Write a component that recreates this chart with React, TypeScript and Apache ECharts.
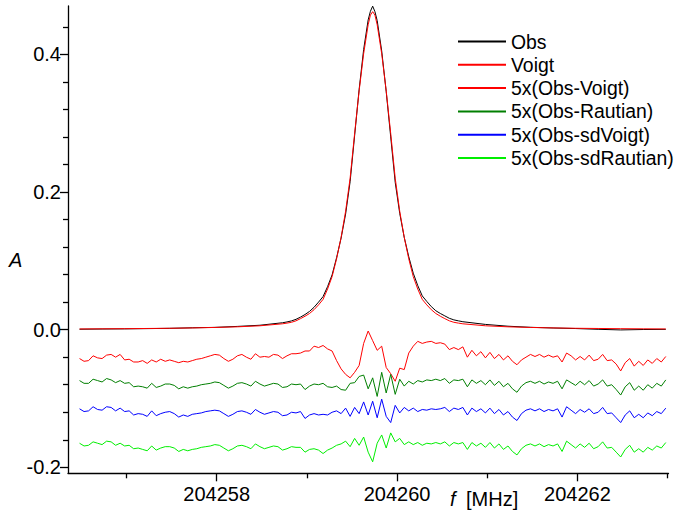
import React, { useEffect, useRef } from "react";
import * as echarts from "echarts";

// Peak (observed line and Voigt fit), sampled denser near the line centre
const peakFreq = [
  204256.48, 204256.73, 204256.98, 204257.23, 204257.48, 204257.73, 204257.98, 204258.23, 204258.48,
  204258.73, 204258.78, 204258.83, 204258.88, 204258.93, 204258.98, 204259.03, 204259.08, 204259.13, 204259.18,
  204259.23, 204259.28, 204259.33, 204259.38, 204259.43, 204259.48, 204259.53, 204259.58, 204259.63, 204259.68,
  204259.705, 204259.73, 204259.755,
  204259.78, 204259.83, 204259.88, 204259.93, 204259.98, 204260.03, 204260.08, 204260.13, 204260.18, 204260.23,
  204260.28, 204260.33, 204260.38, 204260.43, 204260.48, 204260.53, 204260.58, 204260.63, 204260.68, 204260.73,
  204260.98, 204261.23, 204261.48, 204261.73, 204261.98, 204262.23, 204262.48, 204262.73, 204262.98,
];
const obsA = [
  0.0006, 0.0009, 0.0011, 0.0015, 0.0019, 0.0027, 0.0033, 0.0047, 0.0064,
  0.0100, 0.0112, 0.0127, 0.0150, 0.0182, 0.0220, 0.0265, 0.0325, 0.0400, 0.0480,
  0.0625, 0.0795, 0.1045, 0.1330, 0.1680, 0.2150, 0.2820, 0.3490, 0.4070, 0.4500,
  0.4625, 0.4700, 0.4620,
  0.4490, 0.4050, 0.3460, 0.2800, 0.2140, 0.1690, 0.1340, 0.1060, 0.0820, 0.0640,
  0.0490, 0.0410, 0.0335, 0.0275, 0.0235, 0.0200, 0.0165, 0.0142, 0.0128, 0.0115,
  0.0076, 0.0050, 0.0034, 0.0024, 0.0016, 0.0005, -0.0004, 0.0002, 0.0004,
];
const voigtA = [
  0.0010, 0.0012, 0.0014, 0.0017, 0.0020, 0.0025, 0.0032, 0.0041, 0.0056,
  0.0085, 0.0095, 0.0107, 0.0128, 0.0160, 0.0195, 0.0235, 0.0290, 0.0360, 0.0440,
  0.0590, 0.0770, 0.1030, 0.1340, 0.1720, 0.2200, 0.2850, 0.3470, 0.4010, 0.4430,
  0.4570, 0.4620, 0.4570,
  0.4430, 0.4010, 0.3470, 0.2850, 0.2200, 0.1720, 0.1340, 0.1030, 0.0770, 0.0590,
  0.0440, 0.0360, 0.0290, 0.0235, 0.0195, 0.0160, 0.0128, 0.0107, 0.0095, 0.0085,
  0.0056, 0.0041, 0.0032, 0.0025, 0.0020, 0.0017, 0.0014, 0.0012, 0.0010,
];

// Residual traces (already scaled x5 and offset, as plotted), on a uniform grid
const residStart = 204256.48;
const residStep = 0.05;
const residObsVoigt = [
  -0.042, -0.046, -0.045, -0.038, -0.041, -0.042, -0.037, -0.036, -0.040, -0.036,
  -0.044, -0.043, -0.047, -0.047, -0.045, -0.049, -0.044, -0.047, -0.043, -0.046,
  -0.044, -0.046, -0.048, -0.046, -0.047, -0.045, -0.043, -0.042, -0.040, -0.038,
  -0.036, -0.037, -0.042, -0.046, -0.043, -0.038, -0.036, -0.040, -0.043, -0.035,
  -0.040, -0.039, -0.040, -0.036, -0.037, -0.042, -0.038, -0.035, -0.035, -0.034,
  -0.031, -0.031, -0.024, -0.026, -0.023, -0.028, -0.031, -0.045, -0.057, -0.065,
  -0.070, -0.062, -0.052, -0.020, -0.002, -0.016, -0.030, -0.024, -0.055, -0.064,
  -0.075, -0.056, -0.058, -0.034, -0.024, -0.017, -0.020, -0.018, -0.017, -0.020,
  -0.019, -0.021, -0.029, -0.026, -0.029, -0.025, -0.040, -0.030, -0.038, -0.032,
  -0.041, -0.033, -0.042, -0.036, -0.044, -0.038, -0.046, -0.051, -0.044, -0.040,
  -0.036, -0.039, -0.036, -0.040, -0.037, -0.040, -0.038, -0.047, -0.034, -0.038,
  -0.044, -0.039, -0.044, -0.037, -0.045, -0.043, -0.036, -0.045, -0.044, -0.050,
  -0.060, -0.048, -0.042, -0.053, -0.046, -0.052, -0.044, -0.049, -0.042, -0.047,
  -0.039,
];
const residObsRautian = [
  -0.074, -0.078, -0.078, -0.072, -0.074, -0.076, -0.071, -0.073, -0.077, -0.074,
  -0.078, -0.077, -0.083, -0.082, -0.083, -0.085, -0.078, -0.084, -0.082, -0.079,
  -0.079, -0.081, -0.086, -0.083, -0.085, -0.083, -0.082, -0.080, -0.079, -0.078,
  -0.076, -0.077, -0.081, -0.085, -0.082, -0.078, -0.077, -0.079, -0.082, -0.075,
  -0.079, -0.082, -0.080, -0.078, -0.079, -0.084, -0.083, -0.079, -0.080, -0.079,
  -0.087, -0.082, -0.079, -0.080, -0.078, -0.083, -0.084, -0.082, -0.087, -0.088,
  -0.078, -0.077, -0.068, -0.066, -0.086, -0.070, -0.097, -0.062, -0.092, -0.065,
  -0.094, -0.072, -0.082, -0.075, -0.079, -0.074, -0.076, -0.073, -0.074, -0.072,
  -0.074, -0.071, -0.078, -0.073, -0.074, -0.072, -0.083, -0.073, -0.078, -0.074,
  -0.080, -0.073, -0.081, -0.075, -0.083, -0.078, -0.086, -0.091, -0.082, -0.077,
  -0.075, -0.078, -0.075, -0.079, -0.076, -0.078, -0.075, -0.086, -0.073, -0.077,
  -0.081, -0.075, -0.080, -0.074, -0.082, -0.079, -0.073, -0.082, -0.080, -0.087,
  -0.095, -0.083, -0.077, -0.088, -0.082, -0.088, -0.080, -0.085, -0.078, -0.082,
  -0.073,
];
const residObsSdVoigt = [
  -0.115, -0.119, -0.118, -0.112, -0.116, -0.117, -0.112, -0.113, -0.118, -0.114,
  -0.119, -0.118, -0.124, -0.122, -0.123, -0.126, -0.118, -0.125, -0.122, -0.120,
  -0.119, -0.122, -0.127, -0.124, -0.126, -0.123, -0.122, -0.121, -0.119, -0.118,
  -0.117, -0.118, -0.122, -0.126, -0.123, -0.119, -0.118, -0.120, -0.123, -0.116,
  -0.120, -0.123, -0.121, -0.119, -0.120, -0.125, -0.124, -0.120, -0.121, -0.119,
  -0.129, -0.124, -0.122, -0.124, -0.123, -0.124, -0.120, -0.118, -0.122, -0.114,
  -0.126, -0.113, -0.122, -0.105, -0.124, -0.104, -0.128, -0.101, -0.126, -0.135,
  -0.110, -0.121, -0.113, -0.118, -0.114, -0.119, -0.116, -0.117, -0.115, -0.116,
  -0.115, -0.113, -0.119, -0.114, -0.116, -0.113, -0.124, -0.114, -0.119, -0.115,
  -0.121, -0.114, -0.122, -0.116, -0.124, -0.119, -0.127, -0.132, -0.122, -0.117,
  -0.115, -0.118, -0.115, -0.119, -0.116, -0.118, -0.115, -0.127, -0.112, -0.117,
  -0.122, -0.116, -0.120, -0.115, -0.122, -0.120, -0.113, -0.122, -0.121, -0.128,
  -0.135, -0.124, -0.118, -0.128, -0.123, -0.128, -0.121, -0.125, -0.119, -0.122,
  -0.114,
];
const residObsSdRautian = [
  -0.165, -0.169, -0.168, -0.163, -0.165, -0.167, -0.162, -0.163, -0.168, -0.165,
  -0.169, -0.168, -0.173, -0.172, -0.174, -0.176, -0.169, -0.175, -0.172, -0.170,
  -0.170, -0.172, -0.177, -0.174, -0.176, -0.174, -0.173, -0.171, -0.170, -0.169,
  -0.167, -0.168, -0.172, -0.176, -0.173, -0.169, -0.168, -0.170, -0.173, -0.166,
  -0.170, -0.173, -0.171, -0.169, -0.170, -0.175, -0.173, -0.170, -0.171, -0.171,
  -0.178, -0.174, -0.173, -0.175, -0.180, -0.175, -0.172, -0.168, -0.166, -0.162,
  -0.170, -0.158, -0.168, -0.156, -0.178, -0.192, -0.165, -0.153, -0.172, -0.150,
  -0.163, -0.158, -0.167, -0.163, -0.167, -0.164, -0.168, -0.165, -0.166, -0.164,
  -0.166, -0.163, -0.169, -0.164, -0.166, -0.164, -0.174, -0.164, -0.169, -0.165,
  -0.171, -0.164, -0.172, -0.166, -0.174, -0.169, -0.177, -0.182, -0.173, -0.168,
  -0.166, -0.169, -0.166, -0.170, -0.167, -0.169, -0.166, -0.177, -0.162, -0.167,
  -0.172, -0.166, -0.171, -0.165, -0.173, -0.170, -0.163, -0.172, -0.171, -0.178,
  -0.185, -0.174, -0.168, -0.178, -0.173, -0.178, -0.171, -0.175, -0.169, -0.172,
  -0.164,
];

const seriesNames = ["Obs", "Voigt", "5x(Obs-Voigt)", "5x(Obs-Rautian)", "5x(Obs-sdVoigt)", "5x(Obs-sdRautian)"];
const seriesColors = ["#000000", "#ff0000", "#ff0000", "#007f00", "#0000ff", "#00ee00"];

const xMajorTicks = [204258, 204260, 204262];
const xMinorTicks = [204257, 204259, 204261, 204263];
const yMajorTicks = [-0.2, 0, 0.2, 0.4];
const yMinorTicks = [-0.16, -0.12, -0.08, -0.04, 0.04, 0.08, 0.12, 0.16, 0.24, 0.28, 0.32, 0.36, 0.44];

const X_MIN = 204256.352;
const X_MAX = 204263.01;
const Y_MIN = -0.2087;
const Y_MAX = 0.4702;

const FONT = "'Liberation Sans', Arial, Helvetica, sans-serif";

export default function App() {
  const ref = useRef<HTMLDivElement>(null);

  useEffect(() => {
    document.body.style.margin = "0";
    if (!ref.current) return;
    const chart = echarts.init(ref.current, undefined, { renderer: "svg" });

    const pair = (xs: number[], ys: number[]) => ys.map((y, i) => [xs[i], y]);
    const residFreq = residObsVoigt.map((_, i) => +(residStart + residStep * i).toFixed(3));

    const dataSets = [
      pair(peakFreq, obsA),
      pair(peakFreq, voigtA),
      pair(residFreq, residObsVoigt),
      pair(residFreq, residObsRautian),
      pair(residFreq, residObsSdVoigt),
      pair(residFreq, residObsSdRautian),
    ];

    const axisLineStyle = { color: "#000", width: 1.3 };

    chart.setOption({
      animation: false,
      backgroundColor: "#fff",
      grid: { left: 68, right: 9.5, top: 6, bottom: 44.7, containLabel: false, outerBoundsMode: "none" },
      xAxis: [
        {
          type: "value",
          min: X_MIN,
          max: X_MAX,
          position: "bottom",
          axisLine: { show: true, onZero: false, lineStyle: axisLineStyle },
          axisTick: { show: true, length: 8, customValues: xMajorTicks, lineStyle: axisLineStyle },
          axisLabel: {
            show: true,
            customValues: xMajorTicks,
            formatter: (v: number) => String(Math.round(v)),
            color: "#000",
            fontSize: 20,
            fontFamily: FONT,
            margin: 11,
          },
          splitLine: { show: false },
        },
        {
          type: "value",
          min: X_MIN,
          max: X_MAX,
          position: "bottom",
          axisLine: { show: false, onZero: false },
          axisTick: { show: true, length: 5, customValues: xMinorTicks, lineStyle: axisLineStyle },
          axisLabel: { show: false },
          splitLine: { show: false },
        },
      ],
      yAxis: [
        {
          type: "value",
          min: Y_MIN,
          max: Y_MAX,
          position: "left",
          axisLine: { show: true, onZero: false, lineStyle: axisLineStyle },
          axisTick: { show: true, length: 8, customValues: yMajorTicks, lineStyle: axisLineStyle },
          axisLabel: {
            show: true,
            customValues: yMajorTicks,
            formatter: (v: number) => v.toFixed(1),
            color: "#000",
            fontSize: 20,
            fontFamily: FONT,
            margin: 7,
          },
          splitLine: { show: false },
        },
        {
          type: "value",
          min: Y_MIN,
          max: Y_MAX,
          position: "left",
          axisLine: { show: false, onZero: false },
          axisTick: { show: true, length: 5, customValues: yMinorTicks, lineStyle: axisLineStyle },
          axisLabel: { show: false },
          splitLine: { show: false },
        },
      ],
      legend: {
        show: true,
        orient: "vertical",
        left: 457,
        top: 32,
        padding: 0,
        itemWidth: 48,
        itemHeight: 10,
        itemGap: 4.3,
        itemStyle: { opacity: 0 },
        textStyle: { color: "#000", fontSize: 19.4, fontFamily: FONT, lineHeight: 19 },
        data: seriesNames,
      },
      series: dataSets.map((d, k) => ({
        name: seriesNames[k],
        type: "line",
        xAxisIndex: 0,
        yAxisIndex: 0,
        data: d,
        symbol: "none",
        showSymbol: false,
        smooth: false,
        lineStyle: { color: seriesColors[k], width: 1 },
        itemStyle: { color: seriesColors[k] },
        emphasis: { disabled: true },
        z: 2 + k,
      })),
      graphic: [
        {
          type: "text",
          left: 9,
          top: 250,
          style: { text: "A", fontSize: 20, fontStyle: "italic", fontFamily: FONT, fill: "#000" },
        },
        {
          type: "text",
          left: 450,
          top: 489,
          style: { text: "f", fontSize: 20, fontStyle: "italic", fontFamily: FONT, fill: "#000" },
        },
        {
          type: "text",
          left: 466,
          top: 489,
          style: { text: "[MHz]", fontSize: 20, fontFamily: FONT, fill: "#000" },
        },
      ],
    });

    return () => chart.dispose();
  }, []);

  return <div ref={ref} style={{ width: 678, height: 518 }} />;
}
